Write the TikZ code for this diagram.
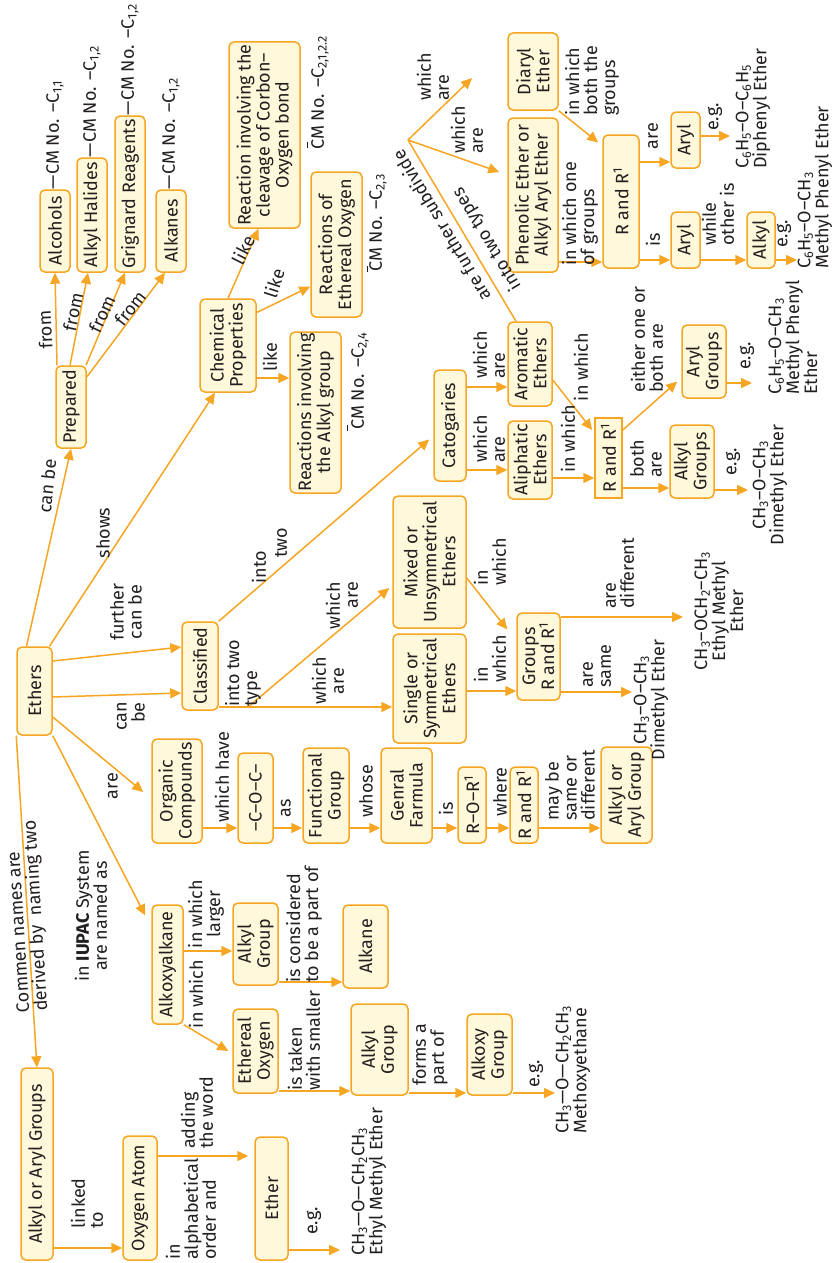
\documentclass[tikz,border=0pt]{standalone}
\usepackage{fontspec}
\setmainfont{Fira Sans}
\usetikzlibrary{arrows.meta,calc}
\definecolor{ora}{RGB}{246,166,35}
\definecolor{fil}{RGB}{255,248,218}
\definecolor{txt}{RGB}{35,31,32}
\newcommand{\sbs}[1]{\textsubscript{#1}}
\newcommand{\sps}[1]{\textsuperscript{#1}}
\pgfdeclarelayer{bg}
\pgfsetlayers{bg,main}
\begin{document}
\begin{tikzpicture}[x=1pt,y=-1pt,
  every node/.style={text=txt},
  bx/.style={draw=ora, fill=fil, line width=1.5pt, rounded corners=5pt, rotate=90, align=center, inner sep=0pt, font=\fontsize{18}{19}\selectfont},
  tx/.style={inner sep=0pt, font=\fontsize{18}{18}\selectfont},
  lb/.style={tx, rotate=90},
  arr/.style={draw=ora, line width=1.5pt, -{Triangle[length=11pt,width=10pt]}},
  ln/.style={draw=ora, line width=1.5pt},
  tk/.style={draw=txt, line width=0.8pt}]
\useasboundingbox (0,0) rectangle (835,1263);
\begin{pgfonlayer}{bg}
\fill[white] (0,0) rectangle (835,1263);
\end{pgfonlayer}

% ---------- boxes ----------
\node[bx,minimum width=82pt,minimum height=30pt] (alc) at (55,231) {Alcohols};
\node[bx,minimum width=114pt,minimum height=30pt] (ahal) at (92,215) {Alkyl Halides};
\node[bx,minimum width=156pt,minimum height=30pt] (grig) at (130,194) {Grignard Reagents};
\node[bx,minimum width=82pt,minimum height=30pt] (alkn) at (171,231) {Alkanes};
\node[bx,minimum width=82pt,minimum height=30pt] (prep) at (71,407) {Prepared};
\node[bx,minimum width=88pt,minimum height=35pt] (ethers) at (34.5,691) {Ethers};
\node[bx,minimum width=93pt,minimum height=56pt] (chem) at (228,345.5) {Chemical\\Properties};
\node[bx,minimum width=186pt,minimum height=71pt] (rcl) at (264.5,135) {Reaction involving the\\cleavage of Corbon–\\Oxygen bond};
\node[bx,minimum width=145pt,minimum height=51pt] (reo) at (336.5,244.5) {Reactions of\\Ethereal Oxygen};
\node[bx,minimum width=161pt,minimum height=51pt] (ralk) at (315.5,412.5) {Reactions involving\\the Alkyl group};
\node[bx,minimum width=77pt,minimum height=50pt] (diaryl) at (533,71.5) {Diaryl\\Ether};
\node[bx,minimum width=154pt,minimum height=50pt] (phen) at (533,195) {Phenolic Ether or\\Alkyl Aryl Ether};
\node[bx,minimum width=133pt,minimum height=36pt] (rr1) at (621,201.5) {R and R\sps{1}};
\node[bx,minimum width=56pt,minimum height=29pt] (aryl1) at (685.5,140) {Aryl};
\node[bx,minimum width=56pt,minimum height=29pt] (aryl2) at (685.5,240) {Aryl};
\node[bx,minimum width=56pt,minimum height=28pt] (alkyl) at (761,240) {Alkyl};
\node[bx,minimum width=111pt,minimum height=32pt] (cat) at (450,425.5) {Catogaries};
\node[bx,minimum width=84pt,minimum height=44pt] (arom) at (530,364) {Aromatic\\Ethers};
\node[bx,minimum width=78pt,minimum height=44pt] (aliph) at (530,460) {Aliphatic\\Ethers};
\node[bx,sharp corners,minimum width=80pt,minimum height=27pt] (rr2) at (608.5,458) {R and R\sps{1}};
\node[bx,minimum width=73pt,minimum height=44pt] (arylg) at (704,361.5) {Aryl\\Groups};
\node[bx,minimum width=73pt,minimum height=44pt] (alkylg) at (692,461.5) {Alkyl\\Groups};
\node[bx,minimum width=88pt,minimum height=36pt] (class) at (200,666) {Classified};
\node[bx,minimum width=132pt,minimum height=73pt] (mixed) at (429.5,562) {Mixed or\\Unsymmetrical\\Ethers};
\node[bx,minimum width=109pt,minimum height=73pt] (single) at (429.5,688.5) {Single or\\Symmetrical\\Ethers};
\node[bx,minimum width=87pt,minimum height=43pt] (groups) at (538.5,656.5) {Groups\\R and R\sps{1}};
\node[bx,minimum width=104pt,minimum height=50pt] (org) at (177,791) {Organic\\Compounds};
\node[bx,minimum width=90pt,minimum height=35pt] (coc) at (255.5,798) {–C–O–C–};
\node[bx,minimum width=95pt,minimum height=46pt] (func) at (326,795.5) {Functional\\Group};
\node[bx,minimum width=95pt,minimum height=51pt] (gen) at (406.5,795.5) {Genral\\Farmula};
\node[bx,minimum width=76pt,minimum height=28pt] (ror) at (472,805) {R–O–R\sps{1}};
\node[bx,minimum width=76pt,minimum height=28pt] (rr3) at (524,805) {R and R\sps{1}};
\node[bx,minimum width=96pt,minimum height=51pt] (aag) at (626.5,795) {Alkyl or\\Aryl Group};
\node[bx,minimum width=119pt,minimum height=31pt] (alkox) at (167.5,964.5) {Alkoxyalkane};
\node[bx,minimum width=82pt,minimum height=45pt] (alkg1) at (255.5,944) {Alkyl\\Group};
\node[bx,minimum width=84pt,minimum height=45pt] (ethox) at (255.5,1051) {Ethereal\\Oxygen};
\node[bx,minimum width=83pt,minimum height=45pt] (alkane) at (365.5,946.5) {Alkane};
\node[bx,minimum width=91pt,minimum height=57pt] (alkg2) at (379.5,1049.5) {Alkyl\\Group};
\node[bx,minimum width=81pt,minimum height=45pt] (alkoxyg) at (489.5,1054.5) {Alkoxy\\Group};
\node[bx,minimum width=192pt,minimum height=32pt] (aagr) at (37,1164) {Alkyl or Aryl Groups};
\node[bx,minimum width=124pt,minimum height=34pt] (oxy) at (140,1198) {Oxygen Atom};
\node[bx,minimum width=123pt,minimum height=33pt] (ether) at (271.5,1198.5) {Ether};

% ---------- CM labels ----------
\node[lb,anchor=west] (cm1) at (alc.east) {—CM No. –C\sbs{1,1}};
\node[lb,anchor=west] (cm2) at (ahal.east) {—CM No. –C\sbs{1,2}};
\node[lb,anchor=west] (cm3) at (grig.east) {—CM No. –C\sbs{1,2}};
\node[lb,anchor=west] (cm4) at (alkn.east) {—CM No. –C\sbs{1,2}};
\node[lb,anchor=west] (cm5) at (320,150) {CM No. –C\sbs{2,1,2.2}};
\node[lb,anchor=west] (cm6) at (378,272) {CM No. –C\sbs{2,3}};
\node[lb,anchor=west] (cm7) at (360,430) {CM No. –C\sbs{2,4}};
\draw[tk] (307,142) -- (307,148);
\draw[tk] (367,266) -- (367,272);
\draw[tk] (347,425) -- (347,431);

% ---------- labels ----------
\node[tx,rotate=93] (lf1) at (45,330) {from};
\node[tx,rotate=78] (lf2) at (73,312) {from};
\node[tx,rotate=65] (lf3) at (102,314) {from};
\node[tx,rotate=52] (lf4) at (130,308) {from};
\node[tx,rotate=84] (lcan) at (47,486) {can be};
\node[lb] (lshows) at (103,533) {shows};
\node[lb,align=center] (lfur) at (126,612) {further\\can be};
\node[lb,align=right,anchor=east] (lcan2) at (131,702) {can\\be};
\node[lb] (lare) at (113,786) {are};
\node[lb] (lwh) at (222,777) {which have};
\node[lb] (las) at (286,808) {as};
\node[lb] (lwhose) at (366,791) {whose};
\node[lb] (lis) at (446,809) {is};
\node[lb] (lwhere) at (500,792) {where};
\node[lb,align=left,anchor=west] (lmay) at (570,821) {may be\\same or\\different};
\node[lb,align=left,anchor=west] (liw1) at (490,683) {in\\which};
\node[lb,align=left,anchor=west] (liw2) at (490,586) {in\\which};
\node[lb,align=center] (lwa1) at (328,681) {which\\are};
\node[lb,align=right,anchor=east] (lwa2) at (342,582) {which\\are};
\node[lb,align=left,anchor=west] (lint) at (243,707) {into two\\type};
\node[lb] (linto) at (259,567) {into};
\node[lb] (ltwo) at (281,543) {two};
\node[lb,align=left,anchor=west] (lwa3) at (489,379) {which\\are};
\node[lb,align=left,anchor=west] (lwa4) at (489,463) {which\\are};
\node[lb,anchor=west] (liw3) at (568,473) {in which};
\node[lb] (liw4) at (581,367) {in which};
\node[lb,align=left,anchor=west] (leither) at (647,393) {either one or\\both are};
\node[lb,align=left,anchor=west] (lboth) at (646,478) {both\\are};
\node[lb] (leg1) at (747,356) {e.g.};
\node[lb,align=left,anchor=west] (fm1) at (793,395) {C\sbs{6}H\sbs{5}–O–CH\sbs{3}\\Methyl Phenyl\\Ether};
\node[lb] (leg2) at (733,462) {e.g.};
\node[lb,align=center] (fm2) at (770,485) {CH\sbs{3}–O–CH\sbs{3}\\Dimethyl Ether};
\node[lb,align=left,anchor=west] (ldiff) at (620,609) {are\\different};
\node[lb,align=center] (fm3) at (719,611) {CH\sbs{3}–OCH\sbs{2}–CH\sbs{3}\\Ethyl Methyl\\Ether};
\node[lb,align=left,anchor=west] (lsame) at (597,688) {are\\same};
\node[lb,align=center] (fm4) at (651,700) {CH\sbs{3}–O–CH\sbs{3}\\Dimethyl Ether};
\node[tx,rotate=63] (llike1) at (243,250) {like};
\node[tx,rotate=72] (llike2) at (274,283) {like};
\node[lb] (llike3) at (270,357) {like};
\node[lb,align=left,anchor=west] (lwa5) at (433,101) {which\\are};
\node[lb,align=left,anchor=west] (lwa6) at (467,154) {which\\are};
\node[tx,rotate=121] (lsub) at (441,226) {are further subdivide};
\node[tx,rotate=121] (ltypes) at (487,239) {into two types};
\node[lb,align=left,anchor=west] (lboth2) at (592,116) {in which\\both the\\groups};
\node[lb,align=left,anchor=west] (lone) at (580,266) {in which one\\of groups};
\node[lb] (lare2) at (653,136) {are};
\node[lb] (lis2) at (653,240) {is};
\node[lb,align=left,anchor=west] (lwhile) at (718,246) {while\\other is};
\node[lb] (leg3) at (715,117) {e.g.};
\node[lb] (leg4) at (784,234) {e.g.};
\node[lb,align=left,anchor=west] (fm5) at (753,169) {C\sbs{6}H\sbs{5}–O–C\sbs{6}H\sbs{5}\\Diphenyl Ether};
\node[lb,align=left,anchor=west] (fm6) at (815,269) {C\sbs{6}H\sbs{5}–O–CH\sbs{3}\\Methyl Phenyl Ether};
\node[tx,rotate=93.6,align=left,anchor=west] (lcomm) at (34,1012) {Commen names are\\derived by\ \ naming two};
\node[lb,align=center] (liupac) at (91,916) {in \textbf{IUPAC} System\\are named as};
\node[lb,align=center] (llarger) at (206,914) {in which\\larger};
\node[lb] (liw5) at (196,994) {in which};
\node[lb,align=left,anchor=west] (lcons) at (304,983) {is considered\\to be a part of};
\node[lb,align=left,anchor=west] (ltaken) at (304,1091) {is taken\\with smaller};
\node[lb,align=left,anchor=west] (lforms) at (430,1086) {forms a\\part of};
\node[lb] (leg5) at (536,1074) {e.g.};
\node[lb,align=left,anchor=west] (fm7) at (573,1134) {CH\sbs{3}—O—CH\sbs{2}CH\sbs{3}\\Methoxyethane};
\node[lb,align=left,anchor=west] (llinked) at (87,1229) {linked\\to};
\node[lb,align=left,anchor=west] (ladd) at (197,1149) {adding\\the word};
\node[lb,align=left,anchor=west] (lalpha) at (191,1260) {in\\alphabetical\\order and};
\node[lb] (leg6) at (314,1221) {e.g.};
\node[lb,align=left,anchor=west] (fm8) at (369,1256) {CH\sbs{3}—O—CH\sbs{2}CH\sbs{3}\\Ethyl Methyl Ether};

% ---------- connectors ----------
\begin{pgfonlayer}{bg}
\draw[arr] ($(ethers.east)+(-8,0)$) -- (prep.west);
\draw[arr] ($(ethers.east)+(15,0)$) -- ($(chem.west)+(-13,0)$);
\draw[arr] ($(ethers.south)+(0,-30)$) -- ($(class.north)+(0,-19)$);
\draw[arr] ($(ethers.south)+(0,6)$) -- ($(class.north)+(0,27)$);
\draw[arr] ($(ethers.south)+(0,26)$) -- ($(org.north)+(-8,1)$);
\draw[arr] (ethers.south west) -- ($(alkox.north)+(-6,-49)$);
\draw[arr] (ethers.north west) -- (aagr.east);

\draw[arr] ($(prep.east)+(-14,0)$) -- (alc.west);
\draw[arr] ($(prep.east)+(-1,0)$) -- ($(ahal.west)+(-4,0)$);
\draw[arr] ($(prep.east)+(15,0)$) -- ($(grig.west)+(-5,0)$);
\draw[arr] ($(prep.south)+(0,-30)$) -- ($(alkn.west)+(-6,0)$);

\draw[arr] (chem.east) -- ($(rcl.west)+(-6,0)$);
\draw[arr] ($(chem.south)+(0,-33)$) -- ($(reo.north)+(0,42)$);
\draw[arr] (chem.south |- 0,378) -- (ralk.north |- 0,378);

\draw[arr] (class.south east) -- ($(cat.north)+(-4,14)$);
\draw[arr] (class.south |- 0,707) -- (single.north |- 0,707);
\coordinate (typej) at (248,707);
\draw[arr] (typej) -- ($(mixed.north)+(-3,26)$);

\draw[arr] (cat.south |- 0,387) -- (arom.north |- 0,387);
\draw[arr] (cat.south |- 0,470) -- (aliph.north |- 0,470);
\draw[arr] ($(arom.south)+(0,16)$) -- ($(rr2.north)+(-2,-28)$);
\draw[arr] (aliph.south |- 0,478) -- (rr2.north |- 0,478);
\draw[arr] ($(rr2.south)+(0,-28)$) -- ($(arylg.north)+(-4,20)$);
\draw[arr] (rr2.south |- 0,488) -- (alkylg.north |- 0,488);
\coordinate (f1) at (752,383);
\draw[arr] (arylg.south |- f1) -- (f1);
\coordinate (f2) at (748,490);
\draw[arr] (alkylg.south |- f2) -- (f2);

\draw[arr] ($(mixed.south)+(0,16)$) -- ($(groups.north)+(-9,-27)$);
\draw[arr] (single.south |- 0,691) -- (groups.north |- 0,691);
\coordinate (f3) at (632,692);
\draw[arr] (groups.south |- f3) -- (f3);
\coordinate (f4) at (683,617);
\draw[arr] (groups.south |- f4) -- (f4);

\draw[arr] (org.south |- 0,828) -- (coc.north |- 0,828);
\draw[arr] (coc.south |- 0,828) -- (func.north |- 0,828);
\draw[arr] (func.south |- 0,828) -- (gen.north |- 0,828);
\draw[arr] (gen.south |- 0,828) -- (ror.north |- 0,828);
\draw[arr] (ror.south |- 0,828) -- (rr3.north |- 0,828);
\draw[arr] (rr3.south |- 0,828) -- (aag.north |- 0,828);

\draw[arr] (alkox.south |- 0,951) -- (alkg1.north |- 0,951);
\draw[arr] (alkox.south west) -- ($(ethox.north)+(-4,0)$);
\draw[arr] (alkg1.south |- 0,982) -- (alkane.north |- 0,982);
\draw[arr] (ethox.south |- 0,1091) -- (alkg2.north |- 0,1091);
\draw[arr] (alkg2.south |- 0,1093) -- (alkoxyg.north |- 0,1093);
\coordinate (f5) at (555,1093);
\draw[arr] (alkoxyg.south |- f5) -- (f5);

\draw[arr] (aagr.south |- 0,1248) -- (oxy.north |- 0,1248);
\draw[arr] (oxy.south |- 0,1156) -- ($(ether.north |- 0,1156)+(-6,0)$);
\coordinate (f6) at (340,1250);
\draw[arr] (ether.south |- f6) -- (f6);

\coordinate (jn) at (408,140);
\draw[ln] ($(arom.east)+(-14,0)$) -- (jn);
\coordinate (d1) at (472,78);
\draw[arr] (jn) -- (d1);
\draw[arr] (jn) -- ($(phen.north)+(-8,-23)$);
\draw[arr] (phen.south |- 0,262) -- (rr1.north |- 0,262);
\draw[arr] (diaryl.south west) -- ($(rr1.north)+(-4,-59)$);
\draw[arr] (rr1.south |- 0,162) -- (aryl1.north |- 0,162);
\draw[arr] (rr1.south |- 0,260) -- (aryl2.north |- 0,260);
\draw[arr] (aryl2.south |- 0,260) -- (alkyl.north |- 0,260);
\coordinate (f7) at (797,260);
\draw[arr] (alkyl.south |- f7) -- (f7);
\coordinate (f8) at (730,136);
\draw[arr] (aryl1.south |- f8) -- (f8);
\end{pgfonlayer}
\end{tikzpicture}
\end{document}
